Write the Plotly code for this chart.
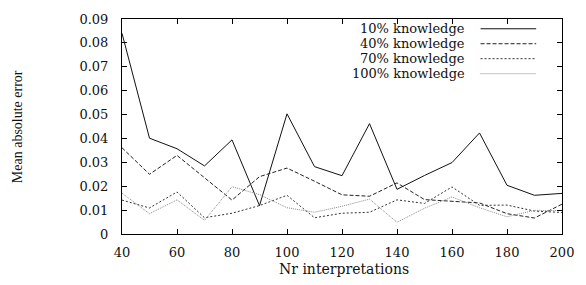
import plotly.graph_objects as go

nr_interpretations = [40, 50, 60, 70, 80, 90, 100, 110, 120, 130, 140, 150, 160, 170, 180, 190, 200]
k10 = [0.0840, 0.0401, 0.0357, 0.0285, 0.0394, 0.0119, 0.0503, 0.0282, 0.0244, 0.0462, 0.0187,
       0.0245, 0.0299, 0.0423, 0.0204, 0.0162, 0.0170]
k40 = [0.0361, 0.0250, 0.0329, 0.0235, 0.0142, 0.0240, 0.0276, 0.0221, 0.0164, 0.0158, 0.0214,
       0.0144, 0.0136, 0.0130, 0.0085, 0.0067, 0.0125]
k70 = [0.0142, 0.0109, 0.0176, 0.0068, 0.0087, 0.0119, 0.0162, 0.0068, 0.0087, 0.0091, 0.0143,
       0.0128, 0.0197, 0.0120, 0.0121, 0.0096, 0.0090]
k100 = [0.0171, 0.0085, 0.0143, 0.0057, 0.0198, 0.0165, 0.0110, 0.0091, 0.0116, 0.0146, 0.0049,
        0.0108, 0.0155, 0.0110, 0.0072, 0.0099, 0.0098]
series_names = ["10% knowledge", "40% knowledge", "70% knowledge", "100% knowledge"]
x_ticks = [40, 60, 80, 100, 120, 140, 160, 180, 200]
y_ticks = [0, 0.01, 0.02, 0.03, 0.04, 0.05, 0.06, 0.07, 0.08, 0.09]
y_tick_labels = ["0", "0.01", "0.02", "0.03", "0.04", "0.05", "0.06", "0.07", "0.08", "0.09"]

styles = [
    dict(color="#111111", dash="solid"),
    dict(color="#222222", dash="4px,2px"),
    dict(color="#333333", dash="2px,2px"),
    dict(color="#8a8a8a", dash="1px,1px"),
]

fig = go.Figure()
for vals, name, st in zip([k10, k40, k70, k100], series_names, styles):
    fig.add_trace(go.Scatter(x=nr_interpretations, y=vals, mode="lines", name=name,
                             line=dict(color=st["color"], dash=st["dash"], width=1),
                             showlegend=False))

W, H = 586, 285
L, R, T, B = 122, 21, 14, 51
pw, ph = W - L - R, H - T - B

def px(xp):
    return (xp - L) / pw

def py(yp):
    return (H - B - yp) / ph

font_ticks = dict(family="DejaVu Serif", size=13, color="#111")
# manual legend (text to the left of the sample line, as in the reference)
rows = [24, 39.3, 54.6, 70]
for name, st, ry in zip(series_names, styles, rows):
    fig.add_annotation(x=px(469), y=py(ry), xref="paper", yref="paper", text=name,
                       showarrow=False, xanchor="right", yanchor="middle",
                       font=dict(family="DejaVu Serif", size=13, color="#111"))
    fig.add_shape(type="line", xref="paper", yref="paper", x0=px(483), x1=px(539),
                  y0=py(ry), y1=py(ry), line=dict(color=st["color"], dash=st["dash"], width=1))

fig.add_annotation(x=px(17), y=py(124), xref="paper", yref="paper", text="Mean absolute error",
                   textangle=-90, showarrow=False, xanchor="center", yanchor="middle",
                   font=dict(family="Liberation Serif", size=14, color="#111"))
fig.add_annotation(x=px(346), y=py(270), xref="paper", yref="paper", text="Nr interpretations",
                   showarrow=False, xanchor="center", yanchor="middle",
                   font=dict(family="DejaVu Serif", size=14, color="#111"))

axis_common = dict(showline=True, linecolor="black", linewidth=1, mirror="ticks",
                   ticks="inside", ticklen=5, tickcolor="black", showgrid=False,
                   zeroline=False, tickfont=font_ticks)
fig.update_xaxes(range=[40, 200], tickvals=x_ticks, ticklabelstandoff=6, **axis_common)
fig.update_yaxes(range=[0, 0.09], tickvals=y_ticks, ticktext=y_tick_labels,
                 ticklabelstandoff=10, **axis_common)
fig.update_layout(width=W, height=H, margin=dict(l=L, r=R, t=T, b=B),
                  plot_bgcolor="white", paper_bgcolor="white", showlegend=False)
fig.write_html("out.html", config={"displayModeBar": False},
               post_script="document.body.style.margin='0';document.body.style.padding='0';")
